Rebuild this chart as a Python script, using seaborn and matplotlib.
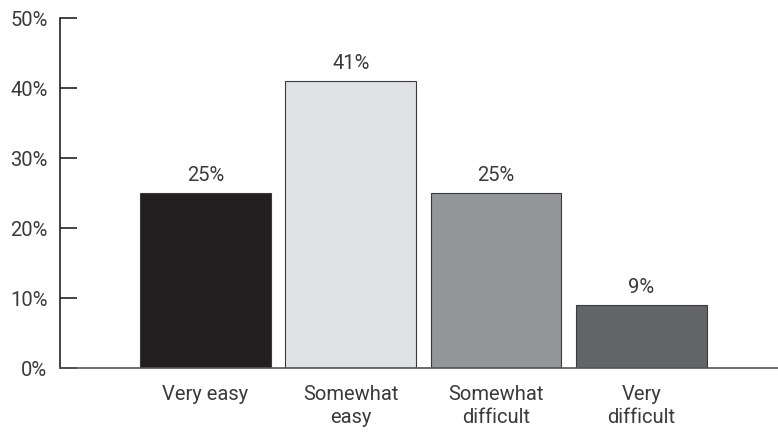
import matplotlib
matplotlib.use("Agg")
import matplotlib.pyplot as plt
import seaborn as sns
import pandas as pd
from matplotlib import font_manager

categories = ["Very easy", "Somewhat\neasy", "Somewhat\ndifficult", "Very\ndifficult"]
values = [25, 41, 25, 9]
value_labels = ["25%", "41%", "25%", "9%"]
y_ticks = [0, 10, 20, 30, 40, 50]
y_tick_labels = ["0%", "10%", "20%", "30%", "40%", "50%"]
colors = ["#231f20", "#e0e1e3", "#939598", "#636466"]

sns.set_theme(style="white")
names = {f.name for f in font_manager.fontManager.ttflist}
fam = [f for f in ["Liberation Sans Narrow", "Roboto", "DejaVu Sans"] if f in names]
plt.rcParams['font.family'] = fam
txt = "#3a3a3a"
fs = 14.5

df = pd.DataFrame({"cat": categories, "val": values})

fig = plt.figure(figsize=(7.78, 4.33), dpi=100)
ax = fig.add_axes([60/778, 65/433, 1 - 60/778, 350/433])
sns.barplot(data=df, x="cat", y="val", hue="cat", palette=colors, legend=False,
            width=0.9, edgecolor="#3a3a3a", linewidth=0.8, ax=ax, saturation=1)

ax.set_xlim(-1.0, 3.94)
ax.set_ylim(0, 50)
ax.set_yticks(y_ticks)
ax.set_yticklabels(y_tick_labels)
ax.set_xlabel("")
ax.set_ylabel("")
ax.tick_params(axis="y", direction="in", length=12, width=1.2, color="#222222",
               pad=9, labelsize=fs, labelcolor=txt, left=True)
ax.tick_params(axis="x", length=0, pad=12, labelsize=fs, labelcolor=txt)
for lbl in ax.get_xticklabels():
    lbl.set_linespacing(1.3)

for s in ["top", "right"]:
    ax.spines[s].set_visible(False)
ax.spines["left"].set_color("#222222")
ax.spines["left"].set_linewidth(1.2)
ax.spines["bottom"].set_color("#555555")
ax.spines["bottom"].set_linewidth(1.2)

for i, (v, lab) in enumerate(zip(values, value_labels)):
    ax.annotate(lab, (i, v), xytext=(0, 6), textcoords="offset points",
                ha="center", va="bottom", fontsize=fs, color=txt)

fig.savefig("out.png", dpi=100)
